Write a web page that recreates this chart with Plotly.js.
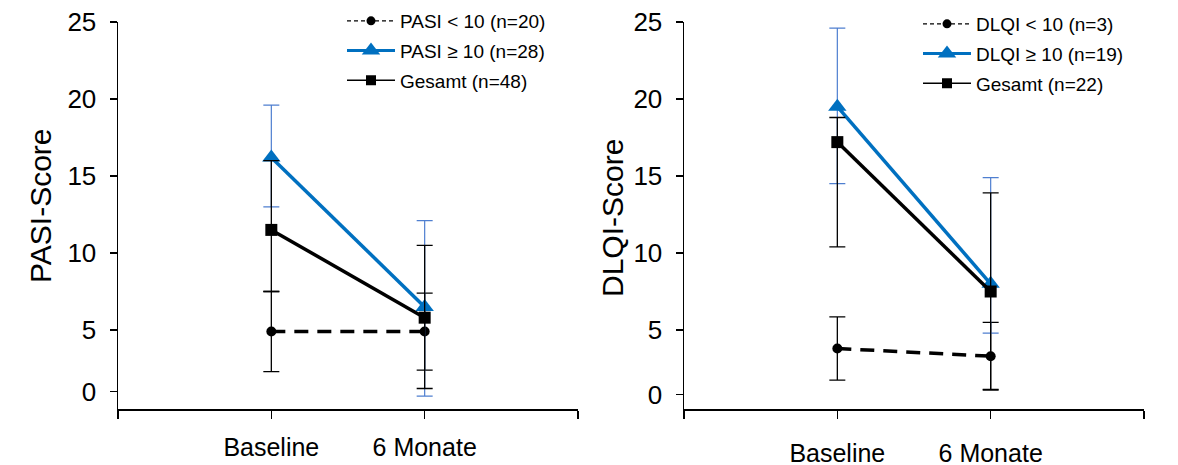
<!DOCTYPE html>
<html>
<head>
<meta charset="utf-8">
<script src="https://cdn.plot.ly/plotly-3.0.1.min.js"></script>
<style>html,body{margin:0;padding:0;background:#fff;}#chart{width:1178px;height:465px;}</style>
</head>
<body>
<div id="chart"></div>
<script>
// ---- data ----
const categories = ['Baseline', '6 Monate'];

// PASI panel
const pasiLowName = 'PASI < 10 (n=20)';
const pasiLow = [4.9, 4.9];
const pasiLowPlus = [2.6, 2.5];
const pasiLowMinus = [2.6, 2.5];

const pasiHighName = 'PASI \u2265 10 (n=28)';
const pasiHigh = [16.2, 6.5];
const pasiHighPlus = [3.4, 5.6];
const pasiHighMinus = [3.2, 5.8];

const pasiAllName = 'Gesamt (n=48)';
const pasiAll = [11.5, 5.8];
const pasiAllPlus = [4.5, 4.7];
const pasiAllMinus = [4.0, 4.6];

// DLQI panel
const dlqiLowName = 'DLQI < 10 (n=3)';
const dlqiLow = [3.8, 3.3];
const dlqiLowPlus = [2.05, 2.2];
const dlqiLowMinus = [2.05, 2.15];

const dlqiHighName = 'DLQI \u2265 10 (n=19)';
const dlqiHigh = [19.5, 8.0];
const dlqiHighPlus = [5.1, 6.9];
const dlqiHighMinus = [5.0, 3.2];

const dlqiAllName = 'Gesamt (n=22)';
const dlqiAll = [17.2, 7.5];
const dlqiAllPlus = [1.6, 6.4];
const dlqiAllMinus = [6.8, 6.4];

const yTickText = ['0', '5', '10', '15', '20', '25'];
const pasiTickVals = [1.0, 5, 10, 15, 20, 25];
const dlqiTickVals = [0.8, 5, 10, 15, 20, 25];

// ---- build ----
const W = 1178, H = 465;
const xs = categories.map((c, i) => i + 1);
const BLUE = '#0070C0';
const BLUE_ERR = '#4F7FD0';

function errb(plus, minus, color, thick) {
  return {type: 'data', symmetric: false, array: plus, arrayminus: minus,
          color: color, thickness: thick, width: 8};
}
const styles = {
  low:  {line: {color: '#000', width: 3.5, dash: '14px,9px'}, marker: {symbol: 'circle', size: 10, color: '#000'},
         legLine: {color: '#000', width: 1.3, dash: '4px,3px'}, legMarker: {symbol: 'circle', size: 9, color: '#000'}, err: '#000', et: 1.3},
  high: {line: {color: BLUE, width: 3.5}, marker: {symbol: 'triangle-up', size: 16, color: BLUE},
         legLine: {color: BLUE, width: 3}, legMarker: {symbol: 'triangle-up', size: 18, color: BLUE}, err: BLUE_ERR, et: 1.2},
  all:  {line: {color: '#000', width: 3.5}, marker: {symbol: 'square', size: 12, color: '#000'},
         legLine: {color: '#000', width: 1.3}, legMarker: {symbol: 'square', size: 10, color: '#000'}, err: '#000', et: 1.3}
};
function series(kind, y, p, m, xa, ya) {
  const s = styles[kind];
  return {x: xs, y: y, xaxis: xa, yaxis: ya, showlegend: false, hoverinfo: 'skip',
    mode: 'lines+markers', line: s.line, marker: s.marker,
    error_y: errb(p, m, s.err, s.et)};
}
function legendEntry(kind, name, xa, ya, leg, grp) {
  const s = styles[kind];
  return {x: [null], y: [null], name: name, xaxis: xa, yaxis: ya, legend: leg,
    legendgroup: leg + grp, mode: 'lines+markers', line: s.legLine, marker: s.legMarker};
}

const traces = [
  series('low', pasiLow, pasiLowPlus, pasiLowMinus, 'x', 'y'),
  series('high', pasiHigh, pasiHighPlus, pasiHighMinus, 'x', 'y'),
  series('all', pasiAll, pasiAllPlus, pasiAllMinus, 'x', 'y'),
  series('low', dlqiLow, dlqiLowPlus, dlqiLowMinus, 'x2', 'y2'),
  series('high', dlqiHigh, dlqiHighPlus, dlqiHighMinus, 'x2', 'y2'),
  series('all', dlqiAll, dlqiAllPlus, dlqiAllMinus, 'x2', 'y2'),
  legendEntry('low', pasiLowName, 'x', 'y', 'legend', 'a'),
  legendEntry('high', pasiHighName, 'x', 'y', 'legend', 'b'),
  legendEntry('all', pasiAllName, 'x', 'y', 'legend', 'c'),
  legendEntry('low', dlqiLowName, 'x2', 'y2', 'legend2', 'a'),
  legendEntry('high', dlqiHighName, 'x2', 'y2', 'legend2', 'b'),
  legendEntry('all', dlqiAllName, 'x2', 'y2', 'legend2', 'c')
];

const font = {family: 'Liberation Sans, Arial, sans-serif', color: '#000'};
function xax(l, r, standoff) {
  return {domain: [l / W, r / W], range: [0, 3], tickvals: [0, 1, 2, 3],
    ticktext: [''].concat(categories, ['']), showgrid: false, zeroline: false,
    showline: true, linecolor: '#000', linewidth: 1.5, ticks: 'outside', ticklen: 8,
    tickwidth: 1.5, tickcolor: '#000', ticklabelstandoff: standoff,
    tickfont: Object.assign({size: 25}, font), fixedrange: true};
}
function yax(anchor, vals) {
  return {domain: [1 - 409 / H, 1 - 22 / H], range: [-0.13, 25], anchor: anchor,
    tickvals: vals, ticktext: yTickText, showgrid: false, zeroline: false,
    showline: true, linecolor: '#000', linewidth: 1.5, ticks: 'outside', ticklen: 7,
    tickwidth: 1.5, tickcolor: '#000', ticklabelstandoff: 8,
    tickfont: Object.assign({size: 26}, font), fixedrange: true};
}

const legendBase = {bgcolor: 'rgba(0,0,0,0)', borderwidth: 0, itemwidth: 48,
  traceorder: 'grouped', tracegroupgap: 2, itemclick: false, itemdoubleclick: false,
  font: Object.assign({size: 19}, font), xanchor: 'left', yanchor: 'top'};

const layout = {
  width: W, height: H,
  margin: {l: 0, r: 0, t: 0, b: 0},
  paper_bgcolor: '#fff', plot_bgcolor: '#fff',
  showlegend: true,
  xaxis: Object.assign(xax(118, 578, 7), {anchor: 'y'}),
  yaxis: yax('x', pasiTickVals),
  xaxis2: Object.assign(xax(684, 1144, 13), {anchor: 'y2'}),
  yaxis2: yax('x2', dlqiTickVals),
  legend: Object.assign({}, legendBase, {x: 342 / W, y: 1 - 2 / H}),
  legend2: Object.assign({}, legendBase, {x: 918 / W, y: 1 - 5 / H}),
  annotations: [
    {text: 'PASI-Score', xref: 'paper', yref: 'paper', x: 40 / W, y: 1 - 206 / H,
     textangle: -90, showarrow: false, font: Object.assign({size: 30}, font),
     xanchor: 'center', yanchor: 'middle'},
    {text: 'DLQI-Score', xref: 'paper', yref: 'paper', x: 613 / W, y: 1 - 218 / H,
     textangle: -90, showarrow: false, font: Object.assign({size: 30}, font),
     xanchor: 'center', yanchor: 'middle'}
  ]
};

Plotly.newPlot('chart', traces, layout, {displayModeBar: false, staticPlot: true});
</script>
</body>
</html>
